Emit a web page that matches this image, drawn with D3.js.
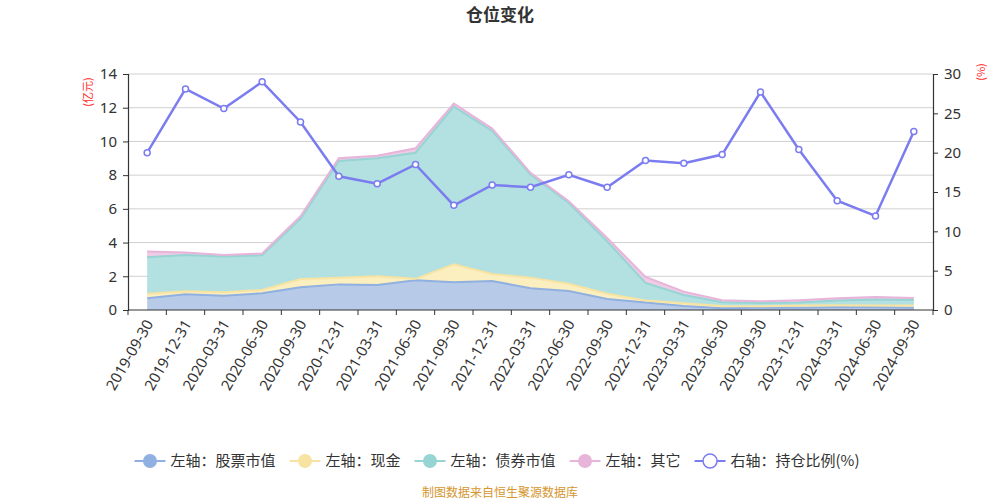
<!DOCTYPE html>
<html><head><meta charset="utf-8">
<script src="https://cdn.jsdelivr.net/npm/d3@7"></script>
<style>
html,body{margin:0;padding:0;background:#fff;}
svg{display:block;font-family:"Noto Sans CJK SC","Noto Sans",sans-serif;}
</style></head>
<body><svg id="c" width="1000" height="500"></svg>
<script>
const dates = ["2019-09-30","2019-12-31","2020-03-31","2020-06-30","2020-09-30","2020-12-31","2021-03-31","2021-06-30","2021-09-30","2021-12-31","2022-03-31","2022-06-30","2022-09-30","2022-12-31","2023-03-31","2023-06-30","2023-09-30","2023-12-31","2024-03-31","2024-06-30","2024-09-30"];
const stockValue = [0.69,0.93,0.85,0.99,1.35,1.52,1.49,1.76,1.64,1.72,1.29,1.13,0.65,0.44,0.24,0.10,0.14,0.14,0.16,0.16,0.14];
const cashValue  = [0.28,0.18,0.20,0.20,0.49,0.40,0.51,0.09,1.07,0.42,0.63,0.43,0.32,0.12,0.16,0.14,0.08,0.12,0.12,0.10,0.12];
const bondValue  = [2.16,2.16,2.12,2.06,3.56,6.92,7.00,7.48,9.36,8.48,6.12,4.79,3.10,1.05,0.49,0.22,0.20,0.18,0.28,0.36,0.34];
const otherValue = [0.34,0.14,0.10,0.10,0.16,0.16,0.15,0.26,0.18,0.14,0.10,0.10,0.20,0.35,0.20,0.12,0.10,0.14,0.13,0.15,0.11];
const ratioValue = [20.0,28.1,25.6,29.0,23.9,17.0,16.05,18.5,13.3,15.9,15.6,17.2,15.6,19.0,18.65,19.76,27.7,20.4,13.9,11.95,22.7];
const leftTicks = [0,2,4,6,8,10,12,14];
const rightTicks = [0,5,10,15,20,25,30];
const seriesNames = ["左轴：股票市值","左轴：现金","左轴：债券市值","左轴：其它","右轴：持仓比例(%)"];

const areaSeries = [
  {key:"stock", vals:stockValue, line:"#8fb0e0", fill:"#b7cbe9"},
  {key:"cash",  vals:cashValue,  line:"#f7e3a2", fill:"#fbeebf"},
  {key:"bond",  vals:bondValue,  line:"#97d4d4", fill:"#b3e0e0"},
  {key:"other", vals:otherValue, line:"#e6b5d9", fill:"#efcbe5"}
];
const ratioColor = "#7b7cf0";

const svg = d3.select("#c");
const L = 128, R = 933, T = 74, B = 310;

const x = d3.scaleBand().domain(dates).range([L, R]).padding(0);
const cx = d => x(d) + x.bandwidth()/2;
const yL = d3.scaleLinear().domain([0,14]).range([B, T]);
const yR = d3.scaleLinear().domain([0,30]).range([B, T]);

// title
svg.append("text").attr("x",500).attr("y",21).attr("text-anchor","middle")
  .attr("font-size",17).attr("font-weight","bold").attr("fill","#333").text("仓位变化");

// grid
svg.append("g").selectAll("line").data(leftTicks.slice(1)).join("line")
  .attr("x1",L).attr("x2",R).attr("y1",d=>yL(d)).attr("y2",d=>yL(d))
  .attr("stroke","#d0d0d0").attr("stroke-width",1);

// stacked areas
const table = dates.map((d,i)=>{const o={date:d}; areaSeries.forEach(s=>o[s.key]=s.vals[i]); return o;});
const stack = d3.stack().keys(areaSeries.map(s=>s.key))(table);
const area = d3.area().x(d=>cx(d.data.date)).y0(d=>yL(d[0])).y1(d=>yL(d[1]));
const topLine = d3.line().x(d=>cx(d.data.date)).y(d=>yL(d[1]));
const ga = svg.append("g");
stack.forEach((layer,i)=>{
  ga.append("path").datum(layer).attr("d",area).attr("fill",areaSeries[i].fill).attr("stroke","none");
});
stack.forEach((layer,i)=>{
  ga.append("path").datum(layer).attr("d",topLine).attr("fill","none")
    .attr("stroke",areaSeries[i].line).attr("stroke-width",2);
});

// axes
const axL = svg.append("g").attr("transform",`translate(${L},0)`)
  .call(d3.axisLeft(yL).tickValues(leftTicks).tickSize(5).tickPadding(6).tickFormat(d3.format("d")));
const axR = svg.append("g").attr("transform",`translate(${R},0)`)
  .call(d3.axisRight(yR).tickValues(rightTicks).tickSize(5).tickPadding(6).tickFormat(d3.format("d")));
[axL,axR].forEach(a=>{
  a.select(".domain").attr("stroke","#333").attr("stroke-width",1.2);
  a.selectAll(".tick line").attr("stroke","#333");
  a.selectAll(".tick text").attr("font-size",15).attr("fill","#333")
    .attr("font-family","'Noto Sans','Noto Sans CJK SC',sans-serif");
});
// x axis
const axX = svg.append("g").attr("transform",`translate(0,${B})`);
axX.append("line").attr("x1",L).attr("x2",R).attr("y1",0).attr("y2",0).attr("stroke","#333").attr("stroke-width",1.2);
const bounds = dates.map(d=>x(d)).concat([R]);
axX.selectAll("line.tk").data(bounds).join("line").attr("class","tk")
  .attr("x1",d=>d).attr("x2",d=>d).attr("y1",0).attr("y2",5).attr("stroke","#333");
axX.selectAll("text").data(dates).join("text")
  .attr("transform",d=>`translate(${cx(d)+2},${11}) rotate(-60)`)
  .attr("text-anchor","end").attr("dy","0.35em")
  .attr("font-size",15).attr("fill","#333")
  .attr("font-family","'Noto Sans','Noto Sans CJK SC',sans-serif")
  .text(d=>d);

// axis names
svg.append("text").attr("transform","translate(88,92) rotate(-90)").attr("text-anchor","middle")
  .attr("dy","0.35em").attr("font-size",11).attr("fill","#ff2a2a").text("(亿元)");
svg.append("text").attr("transform","translate(981,72) rotate(-90)").attr("text-anchor","middle")
  .attr("dy","0.35em").attr("font-size",11).attr("fill","#ff2a2a").text("(%)");

// ratio line
const rl = d3.line().x((d,i)=>cx(dates[i])).y(d=>yR(d));
svg.append("path").datum(ratioValue).attr("d",rl).attr("fill","none")
  .attr("stroke",ratioColor).attr("stroke-width",2.5);
svg.append("g").selectAll("circle").data(ratioValue).join("circle")
  .attr("cx",(d,i)=>cx(dates[i])).attr("cy",d=>yR(d)).attr("r",3)
  .attr("fill","#fff").attr("stroke",ratioColor).attr("stroke-width",1.5);

// legend
const legColors = areaSeries.map(s=>s.line).concat([ratioColor]);
const lg = svg.append("g");
let xpos = 0;
seriesNames.forEach((n,i)=>{
  const g = lg.append("g");
  g.append("line").attr("x1",0).attr("x2",31).attr("y1",0).attr("y2",0)
    .attr("stroke",legColors[i]).attr("stroke-width",2);
  if(i<4){
    g.append("circle").attr("cx",15.5).attr("cy",0).attr("r",7).attr("fill",legColors[i]);
  } else {
    g.append("circle").attr("cx",15.5).attr("cy",0).attr("r",7).attr("fill","#fff")
      .attr("stroke",legColors[i]).attr("stroke-width",1.5);
  }
  const t = g.append("text").attr("x",36).attr("y",0).attr("dy","0.35em")
    .attr("font-size",15).attr("fill","#333").text(n);
  const w = 36 + t.node().getComputedTextLength();
  g.attr("transform",`translate(${xpos},461)`);
  xpos += w + 14;
});
const totalW = xpos - 14;
lg.attr("transform",`translate(${497-totalW/2},0)`);

// footer
svg.append("text").attr("x",500).attr("y",497).attr("text-anchor","middle")
  .attr("font-size",12).attr("fill","#d4962e").text("制图数据来自恒生聚源数据库");
</script></body></html>
